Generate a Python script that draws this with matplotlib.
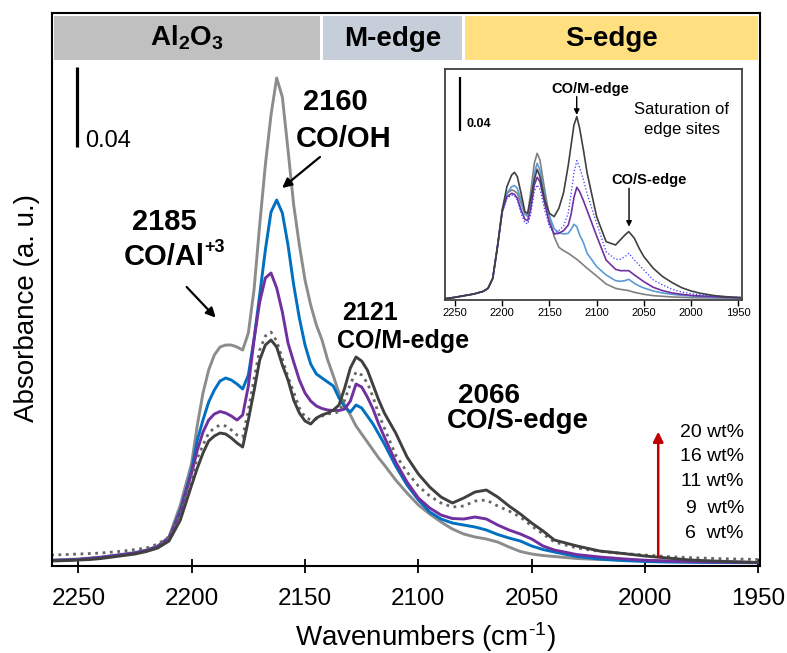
import matplotlib
matplotlib.use('Agg')
import matplotlib.pyplot as plt
from matplotlib.patches import Rectangle

plt.rcParams['font.family'] = ['Liberation Sans', 'DejaVu Sans']
plt.rcParams['mathtext.fontset'] = 'custom'
plt.rcParams['mathtext.rm'] = 'Liberation Sans'
plt.rcParams['mathtext.bf'] = 'Liberation Sans:bold'
plt.rcParams['mathtext.it'] = 'Liberation Sans:italic'

# ---- main spectra (wavenumber, absorbance) ----
wn = [2262, 2255, 2250, 2245, 2240, 2235, 2230, 2225, 2220, 2215,
      2210, 2205, 2200, 2197.5, 2195, 2192.5, 2190, 2187.5, 2185, 2182.5,
      2180, 2177.5, 2175, 2172.5, 2170, 2167.5, 2165, 2162.5, 2160, 2157.5,
      2155, 2152.5, 2150, 2147.5, 2145, 2142.5, 2140, 2137.5, 2135, 2132.5,
      2130, 2127.5, 2125, 2122.5, 2120, 2117.5, 2115, 2110, 2105, 2100,
      2095, 2090, 2085, 2080, 2075, 2070, 2065, 2060, 2055, 2050,
      2045, 2040, 2030, 2020, 2010, 2000, 1990, 1980, 1970, 1960,
      1949]

abs_6 = [0.0015, 0.00175, 0.002, 0.0025, 0.003, 0.00375, 0.0045, 0.00525, 0.0065, 0.0085,
         0.013, 0.029, 0.05, 0.069, 0.085, 0.0965, 0.104, 0.108, 0.109, 0.109,
         0.108, 0.1065, 0.115, 0.1365, 0.169, 0.199, 0.224, 0.2425, 0.233, 0.2065,
         0.179, 0.159, 0.1415, 0.129, 0.119, 0.1115, 0.1015, 0.0935, 0.085, 0.079,
         0.074, 0.0685, 0.0645, 0.0605, 0.0565, 0.0525, 0.049, 0.0415, 0.035, 0.029,
         0.0245, 0.0205, 0.017, 0.0145, 0.013, 0.012, 0.0105, 0.008, 0.00575, 0.0045,
         0.00375, 0.00325, 0.00225, 0.00175, 0.0015, 0.00125, 0.001, 0.00075, 0.0005, 0.00035,
         0.00025]

abs_9 = [0.00125, 0.0015, 0.00175, 0.00225, 0.00275, 0.0035, 0.00425, 0.005, 0.00625, 0.00825,
         0.0125, 0.0265, 0.0465, 0.0615, 0.0715, 0.0805, 0.0865, 0.091, 0.0925, 0.0915,
         0.0895, 0.087, 0.094, 0.112, 0.134, 0.1565, 0.1755, 0.1815, 0.175, 0.159,
         0.139, 0.1225, 0.109, 0.0995, 0.0945, 0.0925, 0.0905, 0.0885, 0.0825, 0.078,
         0.0755, 0.079, 0.0775, 0.0735, 0.0695, 0.0645, 0.0595, 0.0485, 0.039, 0.0315,
         0.0255, 0.022, 0.02, 0.019, 0.018, 0.0165, 0.01425, 0.0125, 0.011, 0.0085,
         0.00675, 0.0055, 0.00325, 0.002, 0.00125, 0.00075, 0.0005, 0.00035, 0.00025, 0.0002,
         0.00015]

abs_11 = [0.00125, 0.0015, 0.00175, 0.00225, 0.00275, 0.0035, 0.00425, 0.005, 0.00625, 0.00825,
          0.0125, 0.0255, 0.045, 0.0565, 0.0655, 0.0715, 0.0745, 0.07575, 0.075, 0.0735,
          0.0715, 0.074, 0.0885, 0.1115, 0.1305, 0.1425, 0.145, 0.1375, 0.1255, 0.11,
          0.1005, 0.0915, 0.085, 0.081, 0.0785, 0.07725, 0.0765, 0.07625, 0.07625, 0.077,
          0.081, 0.0895, 0.088, 0.083, 0.077, 0.0695, 0.063, 0.0505, 0.0405, 0.0325,
          0.0275, 0.024, 0.02225, 0.022, 0.023, 0.022, 0.019, 0.0165, 0.0145, 0.012,
          0.0085, 0.0065, 0.0042, 0.003, 0.0021, 0.0014, 0.001, 0.0007, 0.0005, 0.0004,
          0.00025]

abs_16 = [0.004, 0.00425, 0.0045, 0.00475, 0.005, 0.0055, 0.006, 0.00675, 0.0075, 0.0095,
          0.013, 0.0245, 0.0425, 0.0525, 0.059, 0.065, 0.0675, 0.069, 0.0685, 0.0665,
          0.064, 0.063, 0.0765, 0.092, 0.1065, 0.1135, 0.1155, 0.111, 0.102, 0.093,
          0.0855, 0.0775, 0.073, 0.0715, 0.072, 0.0735, 0.0745, 0.075, 0.0755, 0.0815,
          0.0895, 0.0955, 0.094, 0.09, 0.083, 0.0745, 0.0675, 0.054, 0.0455, 0.0385,
          0.0335, 0.03, 0.028, 0.0285, 0.031, 0.0315, 0.0285, 0.026, 0.023, 0.0185,
          0.0145, 0.0105, 0.0075, 0.0058, 0.0048, 0.004, 0.0032, 0.0027, 0.0023, 0.002,
          0.00175]

abs_20 = [0.001, 0.00125, 0.0015, 0.00175, 0.00225, 0.003, 0.00375, 0.0045, 0.00575, 0.0075,
          0.011, 0.0215, 0.039, 0.0475, 0.055, 0.061, 0.0635, 0.065, 0.0645, 0.0625,
          0.06, 0.058, 0.0715, 0.086, 0.1015, 0.109, 0.1115, 0.108, 0.099, 0.0915,
          0.0815, 0.075, 0.071, 0.0695, 0.0725, 0.074, 0.075, 0.0765, 0.079, 0.0875,
          0.0975, 0.103, 0.101, 0.0965, 0.089, 0.0815, 0.075, 0.065, 0.053, 0.0445,
          0.038, 0.033, 0.03, 0.0325, 0.0355, 0.0365, 0.033, 0.0285, 0.0245, 0.02,
          0.016, 0.0115, 0.0085, 0.006, 0.0048, 0.0035, 0.0025, 0.0015, 0.001, 0.0006,
          0.00025]

# ---- inset spectra ----
wn_in = [2260, 2250, 2240, 2230, 2220, 2215, 2210, 2205, 2200, 2195,
         2190, 2187, 2184, 2180, 2176, 2173, 2170, 2166, 2163, 2160,
         2155, 2150, 2145, 2140, 2135, 2130, 2127, 2124, 2121, 2118,
         2114, 2110, 2100, 2090, 2080, 2075, 2070, 2066, 2060, 2055,
         2050, 2040, 2030, 2020, 2010, 2000, 1990, 1975, 1960, 1948]

in_dark = [0.0, 0.001, 0.00225, 0.0035, 0.0055, 0.00775, 0.01525, 0.039, 0.0665, 0.084,
           0.09275, 0.09475, 0.0915, 0.079, 0.06525, 0.064, 0.074, 0.089, 0.097, 0.0915,
           0.074, 0.064, 0.0615, 0.06775, 0.0795, 0.10025, 0.11525, 0.13025, 0.1365, 0.12775,
           0.1115, 0.094, 0.0615, 0.04275, 0.04025, 0.044, 0.04775, 0.05025, 0.04525, 0.03775,
           0.0315, 0.02275, 0.0165, 0.012, 0.00825, 0.00575, 0.004, 0.00225, 0.00125, 0.00075]

in_lblue = [0.0, 0.001, 0.00225, 0.0035, 0.0055, 0.00775, 0.01525, 0.039, 0.06525, 0.079,
            0.084, 0.08475, 0.08275, 0.074, 0.0635, 0.0615, 0.074, 0.094, 0.1015, 0.0965,
            0.0765, 0.062, 0.0525, 0.0495, 0.0485, 0.049, 0.052, 0.05575, 0.054, 0.04775,
            0.042, 0.034, 0.024, 0.01775, 0.0135, 0.013, 0.0135, 0.0145, 0.0115, 0.0095,
            0.008, 0.00575, 0.00425, 0.00325, 0.0025, 0.002, 0.0015, 0.001, 0.00075, 0.0005]

in_purple = [0.0, 0.001, 0.00225, 0.0035, 0.0055, 0.00775, 0.01525, 0.039, 0.06525, 0.0765,
             0.079, 0.07825, 0.07525, 0.0665, 0.0595, 0.0585, 0.0665, 0.08525, 0.091, 0.08775,
             0.0715, 0.0565, 0.0485, 0.049, 0.051, 0.05525, 0.0635, 0.076, 0.0835, 0.08025,
             0.0735, 0.066, 0.047, 0.029, 0.022, 0.021, 0.021, 0.021, 0.01775, 0.01525,
             0.01275, 0.0085, 0.006, 0.00425, 0.00325, 0.0025, 0.002, 0.0015, 0.001, 0.00075]

in_dotted = [0.0, 0.001, 0.00225, 0.0035, 0.0055, 0.00775, 0.01525, 0.039, 0.0645, 0.07525,
             0.07775, 0.077, 0.074, 0.064, 0.057, 0.056, 0.06275, 0.08025, 0.08525, 0.082,
             0.0665, 0.054, 0.049, 0.051, 0.0545, 0.0645, 0.079, 0.0945, 0.1035, 0.0985,
             0.089, 0.0785, 0.0565, 0.03525, 0.0295, 0.0295, 0.0315, 0.034, 0.029, 0.02525,
             0.0215, 0.014, 0.01025, 0.007, 0.005, 0.00375, 0.00275, 0.002, 0.0015, 0.001]

in_gray = [0.0, 0.001, 0.00225, 0.0035, 0.0055, 0.00775, 0.01525, 0.039, 0.066, 0.079,
           0.0815, 0.08075, 0.079, 0.0715, 0.0635, 0.0635, 0.079, 0.1015, 0.109, 0.104,
           0.0815, 0.0615, 0.0465, 0.0385, 0.036, 0.034, 0.0325, 0.031, 0.0295, 0.02775,
           0.02525, 0.02275, 0.017, 0.011, 0.00775, 0.007, 0.0065, 0.006, 0.00475, 0.004,
           0.00325, 0.00225, 0.00175, 0.00125, 0.001, 0.00075, 0.0006, 0.0005, 0.00035, 0.00025]

loadings = ['20 wt%', '16 wt%', '11 wt%', '9  wt%', '6  wt%']
xticks = [2250, 2200, 2150, 2100, 2050, 2000, 1950]

fig = plt.figure(figsize=(7.87, 6.53), dpi=100)
ax = fig.add_axes([0.0661, 0.1332, 0.8996, 0.8469])

ax.plot(wn, abs_6, color='#8C8C8C', lw=2.1)
ax.plot(wn, abs_9, color='#0070C0', lw=2.1)
ax.plot(wn, abs_11, color='#7030A0', lw=2.1)
ax.plot(wn, abs_16, color='#666666', lw=2.0, ls=':')
ax.plot(wn, abs_20, color='#404040', lw=2.1)

ax.set_xlim(2261.6, 1949.3)
ax.set_ylim(-0.0015, 0.275)
ax.set_xticks(xticks)
ax.tick_params(axis='x', direction='inout', length=10, width=1.3, labelsize=17.5, pad=11)
ax.tick_params(axis='y', left=False, labelleft=False)
for s in ax.spines.values():
    s.set_linewidth(1.5)

# top band with the site regions
band_y0, band_h = 0.2515, 0.022
ax.add_patch(Rectangle((2143.3, band_y0), 2260.7 - 2143.3, band_h, facecolor='#C0C0C0', edgecolor='none'))
ax.add_patch(Rectangle((2080.6, band_y0), 2142.2 - 2080.6, band_h, facecolor='#C5CED9', edgecolor='none'))
ax.add_patch(Rectangle((1950.3, band_y0), 2079.4 - 1950.3, band_h, facecolor='#FFDF80', edgecolor='none'))
ax.text(2202, 0.2585, r'Al$_\mathbf{2}$O$_\mathbf{3}$', ha='center', va='baseline', fontsize=20, fontweight='bold')
ax.text(2111.4, 0.2585, 'M-edge', ha='center', va='baseline', fontsize=20, fontweight='bold')
ax.text(2015, 0.2585, 'S-edge', ha='center', va='baseline', fontsize=20, fontweight='bold')

# scale bar
ax.plot([2250.7, 2250.7], [0.208, 0.248], color='black', lw=2.3, solid_capstyle='butt')
ax.text(2247, 0.208, '0.04', ha='left', va='baseline', fontsize=17)

# band assignments
ax.text(2136.8, 0.2265, '2160', ha='center', va='baseline', fontsize=21, fontweight='bold')
ax.text(2133.1, 0.208, 'CO/OH', ha='center', va='baseline', fontsize=21, fontweight='bold')
ax.annotate('', xy=(2160.1, 0.1875), xytext=(2143.4, 0.203),
            arrowprops=dict(arrowstyle='-|>', color='black', lw=1.6, mutation_scale=14, shrinkA=0, shrinkB=0))
ax.text(2212.1, 0.1665, '2185', ha='center', va='baseline', fontsize=21, fontweight='bold')
ax.text(2229.8, 0.149, 'CO/Al', ha='left', va='baseline', fontsize=21, fontweight='bold')
ax.text(2194.5, 0.1555, '+3', ha='left', va='baseline', fontsize=13, fontweight='bold')
ax.annotate('', xy=(2189.4, 0.1227), xytext=(2202.2, 0.138),
            arrowprops=dict(arrowstyle='-|>', color='black', lw=1.6, mutation_scale=14, shrinkA=0, shrinkB=0))
ax.text(2121.4, 0.1215, '2121', ha='center', va='baseline', fontsize=18, fontweight='bold')
ax.text(2135.9, 0.1073, 'CO/M-edge', ha='left', va='baseline', fontsize=18, fontweight='bold')
ax.text(2068.9, 0.08, '2066', ha='center', va='baseline', fontsize=20, fontweight='bold')
ax.text(2087.5, 0.0673, 'CO/S-edge', ha='left', va='baseline', fontsize=20, fontweight='bold')

# loading arrow and labels
ax.annotate('', xy=(1994.2, 0.0657), xytext=(1994.2, 0.00315),
            arrowprops=dict(arrowstyle='-|>', color='#C00000', lw=1.8, mutation_scale=15, shrinkA=0, shrinkB=0))
for lab, yb in zip(loadings, [0.0632, 0.051, 0.0385, 0.0252, 0.01235]):
    ax.text(1956.4, yb, lab, ha='right', va='baseline', fontsize=14)

fig.text(425 / 787, 1 - 637 / 653, r'Wavenumbers (cm$^{\text{-}1}$)', ha='center', va='center', fontsize=20)
fig.text(26.7 / 787, 1 - 308.5 / 653, 'Absorbance (a. u.)', ha='center', va='center', rotation=90, fontsize=20)

# ---- inset ----
axi = fig.add_axes([0.5654, 0.5406, 0.3774, 0.3533])
axi.plot(wn_in, in_gray, color='#808080', lw=1.2)
axi.plot(wn_in, in_lblue, color='#5B9BD5', lw=1.2)
axi.plot(wn_in, in_purple, color='#7030A0', lw=1.2)
axi.plot(wn_in, in_dotted, color='#3333FF', lw=0.9, ls=':')
axi.plot(wn_in, in_dark, color='#404040', lw=1.2)
axi.set_xlim(2260.6, 1946.1)
axi.set_ylim(-0.001, 0.172)
axi.set_xticks(xticks)
axi.tick_params(axis='x', direction='out', length=4, width=1, labelsize=8, pad=2)
axi.tick_params(axis='y', left=False, labelleft=False)
for s in axi.spines.values():
    s.set_linewidth(1.3)
    s.set_color('#404040')

axi.plot([2244.7, 2244.7], [0.126, 0.166], color='black', lw=1.6, solid_capstyle='butt')
axi.text(2237.6, 0.129, '0.04', ha='left', va='baseline', fontsize=9, fontweight='bold')
axi.text(2106.5, 0.154, 'CO/M-edge', ha='center', va='baseline', fontsize=10.5, fontweight='bold')
axi.annotate('', xy=(2121.1, 0.1378), xytext=(2121.1, 0.1515),
             arrowprops=dict(arrowstyle='-|>', color='black', lw=1, mutation_scale=8, shrinkA=0, shrinkB=0))
axi.text(2009.9, 0.1385, 'Saturation of', ha='center', va='baseline', fontsize=12)
axi.text(2009.9, 0.1235, 'edge sites', ha='center', va='baseline', fontsize=12)
axi.text(2044.5, 0.086, 'CO/S-edge', ha='center', va='baseline', fontsize=10.5, fontweight='bold')
axi.annotate('', xy=(2065.7, 0.054), xytext=(2065.7, 0.0828),
             arrowprops=dict(arrowstyle='-|>', color='black', lw=1, mutation_scale=8, shrinkA=0, shrinkB=0))

fig.savefig('out.png', dpi=100)
